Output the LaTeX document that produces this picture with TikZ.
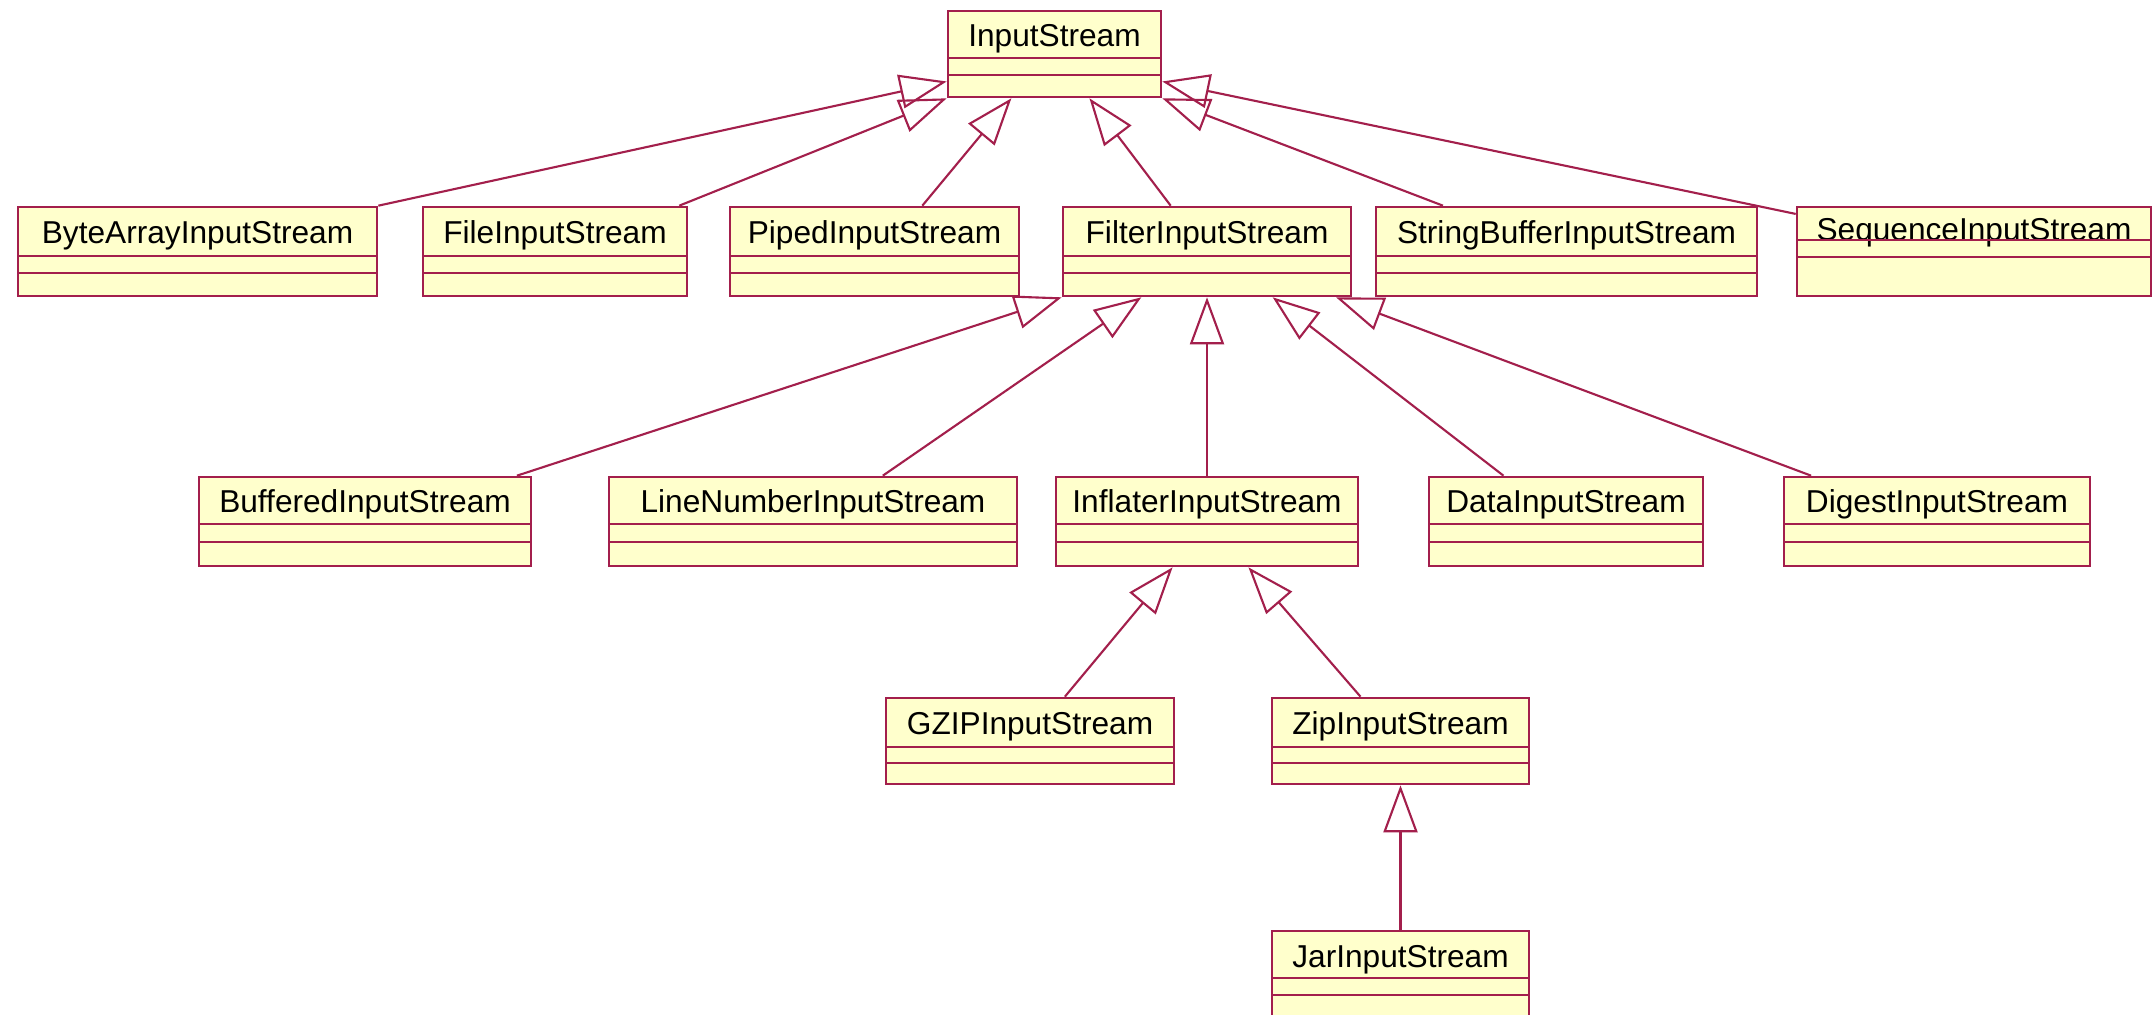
\documentclass[tikz,border=0pt]{standalone}
\usepackage{fontspec}
\setmainfont{Liberation Sans}
\usetikzlibrary{arrows.meta,fit,calc}
\definecolor{umlred}{HTML}{A31F4C}
\definecolor{umlfill}{HTML}{FFFFCC}
\tikzset{
  cls/.style={draw=umlred, fill=umlfill, line width=0.75pt, inner sep=0pt, rectangle},
  clsline/.style={draw=umlred, line width=0.75pt},
  lbl/.style={anchor=base, inner sep=0pt, font=\fontsize{9}{10}\selectfont, text=black},
  gen/.style={draw=umlred, line width=0.6pt, -{Triangle[open, length=0.47cm, width=0.34cm]}},
}
% name, x1, y1, x2, y2, label, baseline y, line1 y, line2 y
\newcommand{\umlcls}[9]{%
  \node[cls, fit={(#2,#3) (#4,#5)}] (#1) {};
  \node[lbl] (#1-t) at ({(#2+#4)/2}, #7) {#6};
  \draw[clsline] (#2,#8) -- (#4,#8);
  \draw[clsline] (#2,#9) -- (#4,#9);
}
\begin{document}
\begin{tikzpicture}[x=0.01cm, y=-0.01cm]
\clip (0,0) rectangle (2154,1015);
\fill[white] (0,0) rectangle (2154,1015);

% top
\umlcls{IS}{948}{11}{1161}{97}{InputStream}{47}{58}{75}
% row 2
\umlcls{BA}{18}{207}{377}{296}{ByteArrayInputStream}{243}{256}{273}
\umlcls{FI}{423}{207}{687}{296}{FileInputStream}{243}{256}{273}
\umlcls{PI}{730}{207}{1019}{296}{PipedInputStream}{243}{256}{273}
\umlcls{FIS}{1063}{207}{1351}{296}{FilterInputStream}{243}{256}{273}
\umlcls{SB}{1376}{207}{1757}{296}{StringBufferInputStream}{243}{256}{273}
\umlcls{SQ}{1797}{207}{2151}{296}{SequenceInputStream}{240}{240}{257}
% row 3
\umlcls{BU}{199}{477}{531}{566}{BufferedInputStream}{512}{524}{542}
\umlcls{LN}{609}{477}{1017}{566}{LineNumberInputStream}{512}{524}{542}
\umlcls{IN}{1056}{477}{1358}{566}{InflaterInputStream}{512}{524}{542}
\umlcls{DA}{1429}{477}{1703}{566}{DataInputStream}{512}{524}{542}
\umlcls{DI}{1784}{477}{2090}{566}{DigestInputStream}{512}{524}{542}
% row 4
\umlcls{GZ}{886}{698}{1174}{784}{GZIPInputStream}{734}{747}{763}
\umlcls{ZI}{1272}{698}{1529}{784}{ZipInputStream}{734}{747}{763}
% row 5
\umlcls{JA}{1272}{931}{1529}{1040}{JarInputStream}{967}{978}{995}

% generalisations to InputStream
\draw[gen] (BA.north east) -- ($(IS.north west)!0.81!(IS.south west)$);
\draw[gen] ($(FI.north west)!0.966!(FI.north east)$) -- (IS.south west);
\draw[gen] ($(PI.north west)!0.664!(PI.north east)$) -- ($(IS.south west)!0.30!(IS.south east)$);
\draw[gen] ($(FIS.north west)!0.375!(FIS.north east)$) -- ($(IS.south west)!0.662!(IS.south east)$);
\draw[gen] ($(SB.north west)!0.178!(SB.north east)$) -- (IS.south east);
\draw[gen] ($(SQ.north west)!0.09!(SQ.south west)$) -- ($(IS.north east)!0.81!(IS.south east)$);

% generalisations to FilterInputStream
\draw[gen] ($(BU.north west)!0.954!(BU.north east)$) -- (FIS.south west);
\draw[gen] ($(LN.north west)!0.67!(LN.north east)$) -- ($(FIS.south west)!0.274!(FIS.south east)$);
\draw[gen] (IN.north) -- (IN.north |- FIS.south);
\draw[gen] ($(DA.north west)!0.274!(DA.north east)$) -- ($(FIS.south west)!0.726!(FIS.south east)$);
\draw[gen] ($(DI.north west)!0.092!(DI.north east)$) -- ($(FIS.south west)!0.944!(FIS.south east)$);

% generalisations to InflaterInputStream
\draw[gen] ($(GZ.north west)!0.62!(GZ.north east)$) -- ($(IN.south west)!0.387!(IN.south east)$);
\draw[gen] ($(ZI.north west)!0.346!(ZI.north east)$) -- ($(IN.south west)!0.636!(IN.south east)$);

% generalisation to ZipInputStream
\draw[gen] (JA.north) -- (ZI.south);
\end{tikzpicture}
\end{document}
